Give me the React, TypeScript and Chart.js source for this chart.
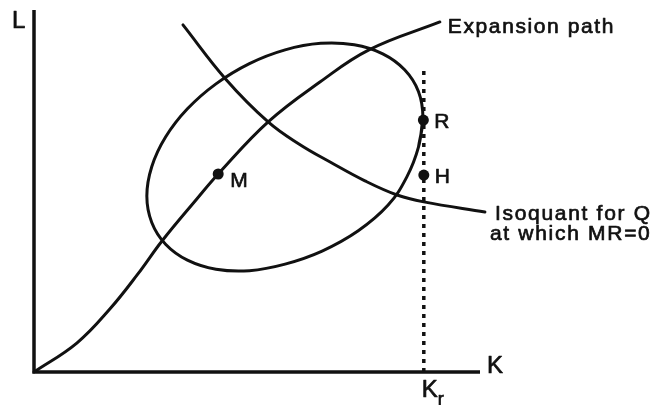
import React, { useEffect, useRef } from "react";
import { Chart, registerables } from "chart.js";

Chart.register(...registerables);

// Expansion path (K, L)
const expansionK = [0, 9.6, 17.0, 23.3, 28.7, 36.5, 41.3, 52.5, 64.1, 75.1, 91.0];
const expansionL = [0, 8.0, 17.4, 27.1, 36.2, 47.8, 54.7, 69.1, 80.1, 89.0, 96.7];

// Isoquant for Q at which MR=0
const isoquantK = [33.4, 43.0, 52.5, 59.4, 66.4, 74.2, 81.4, 87.4, 101.1];
const isoquantL = [95.9, 80.9, 69.1, 63.0, 58.0, 52.8, 48.9, 47.0, 44.2];

// Closed contour (ellipse), traced clockwise starting at R, first two points repeated to close smoothly
const ellipseK = [87.2, 86.2, 83.6, 79.4, 72.7, 64.6, 56.3, 48.3, 40.8, 34.4, 29.5, 26.4, 25.3, 26.4, 29.5, 34.4, 40.8, 48.3, 56.3, 64.3, 71.8, 78.2, 83.1, 86.2, 87.2, 86.2];
const ellipseL = [70.2, 62.1, 53.9, 46.1, 39.0, 33.4, 29.8, 28.0, 28.4, 30.9, 35.3, 41.3, 48.6, 56.7, 64.9, 72.7, 79.6, 85.2, 89.0, 90.8, 90.4, 87.9, 83.5, 77.5, 70.2, 62.1];

// Labelled points
const pointNames = ["M", "R", "H"];
const pointK = [41.3, 87.3, 87.4];
const pointL = [54.7, 69.6, 54.4];

// Vertical dotted line at K_r
const krValue = 87.4;
const krTop = 84;

// Axis extents
const axisMax = 100;
const axisNames = ["L", "K", "K", "r"];
const expansionLabel = "Expansion path";
const isoquantLabel = ["Isoquant for Q", "at which MR=0"];

const zip = (xs: number[], ys: number[]) => xs.map((x, i) => ({ x, y: ys[i] }));

const FONT = '"Liberation Sans", Arial, sans-serif';

const labelPlugin = {
  id: "diagramLabels",
  afterDatasetsDraw(chart: any) {
    const { ctx } = chart;
    const xs = chart.scales.x;
    const ys = chart.scales.y;
    const px = (v: number) => xs.getPixelForValue(v);
    const py = (v: number) => ys.getPixelForValue(v);
    const draw = (t: string, x: number, y: number, size: number, spacing: number) => {
      ctx.font = `${size}px ${FONT}`;
      try {
        (ctx as any).letterSpacing = `${spacing}px`;
      } catch (e) {}
      ctx.fillText(t, x, y);
      ctx.strokeText(t, x, y);
    };
    ctx.save();
    ctx.fillStyle = "#111";
    ctx.strokeStyle = "#111";
    ctx.lineWidth = 0.7;
    ctx.lineJoin = "round";
    ctx.textAlign = "left";
    ctx.textBaseline = "alphabetic";

    // axis names
    draw(axisNames[0], px(0) - 22, py(axisMax) + 18, 24, 0);
    draw(axisNames[1], px(axisMax) + 7, py(0) + 1, 24, 0);
    draw(axisNames[2], px(krValue) - 2, py(0) + 25, 24, 0);
    draw(axisNames[3], px(krValue) + 14, py(0) + 33, 18, 0);

    // point names
    const offs = [
      [12, 13],
      [11, 8],
      [11, 8],
    ];
    pointNames.forEach((n, i) => {
      draw(n, px(pointK[i]) + offs[i][0], py(pointL[i]) + offs[i][1], 21, 0.5);
    });

    // curve labels
    const eK = expansionK[expansionK.length - 1];
    const eL = expansionL[expansionL.length - 1];
    draw(expansionLabel, px(eK) + 8, py(eL) + 11, 21, 1.6);

    const iK = isoquantK[isoquantK.length - 1];
    const iL = isoquantL[isoquantL.length - 1];
    draw(isoquantLabel[0], px(iK) + 10, py(iL) + 8, 21, 1.7);
    draw(isoquantLabel[1], px(iK) + 5, py(iL) + 28, 21, 1.7);
    ctx.restore();
  },
};

export default function App() {
  const ref = useRef<HTMLCanvasElement | null>(null);

  useEffect(() => {
    if (!ref.current) return;
    const W = 656;
    const H = 405;
    // pixel anchors of axes in the layout
    const ox = 34;
    const oy = 372;
    const kx = (480 - ox) / axisMax;
    const ly = (oy - 10) / axisMax;

    const line = {
      borderColor: "#111",
      pointRadius: 0,
      fill: false,
      borderCapStyle: "round" as const,
      borderJoinStyle: "round" as const,
    };

    const chart = new Chart(ref.current, {
      type: "line",
      data: {
        datasets: [
          {
            ...line,
            data: [
              { x: 0, y: axisMax },
              { x: 0, y: 0 },
              { x: axisMax, y: 0 },
            ],
            borderWidth: 3.5,
            tension: 0,
            borderCapStyle: "butt",
            borderJoinStyle: "miter",
          },
          {
            ...line,
            data: [
              { x: krValue, y: 0 },
              { x: krValue, y: krTop },
            ],
            borderWidth: 3.5,
            borderDash: [4, 5],
            borderCapStyle: "butt",
            tension: 0,
          },
          { ...line, data: zip(expansionK, expansionL), borderWidth: 3, tension: 0.4 },
          { ...line, data: zip(isoquantK, isoquantL), borderWidth: 3, tension: 0.4 },
          { ...line, data: zip(ellipseK, ellipseL), borderWidth: 3, tension: 0.4 },
          {
            data: zip(pointK, pointL),
            showLine: false,
            pointRadius: 5.5,
            pointBackgroundColor: "#111",
            pointBorderWidth: 0,
            borderColor: "#111",
          },
        ],
      },
      options: {
        animation: false,
        responsive: false,
        devicePixelRatio: 1,
        layout: { padding: 0, autoPadding: false },
        events: [],
        plugins: { legend: { display: false }, tooltip: { enabled: false } },
        scales: {
          x: { type: "linear", display: false, min: -ox / kx, max: (W - ox) / kx },
          y: { type: "linear", display: false, min: -(H - oy) / ly, max: oy / ly },
        },
      },
      plugins: [labelPlugin],
    });
    return () => chart.destroy();
  }, []);

  return (
    <div style={{ position: "absolute", left: 0, top: 0, width: 656, height: 405, background: "#fff" }}>
      <canvas ref={ref} width={656} height={405} style={{ display: "block" }} />
    </div>
  );
}
